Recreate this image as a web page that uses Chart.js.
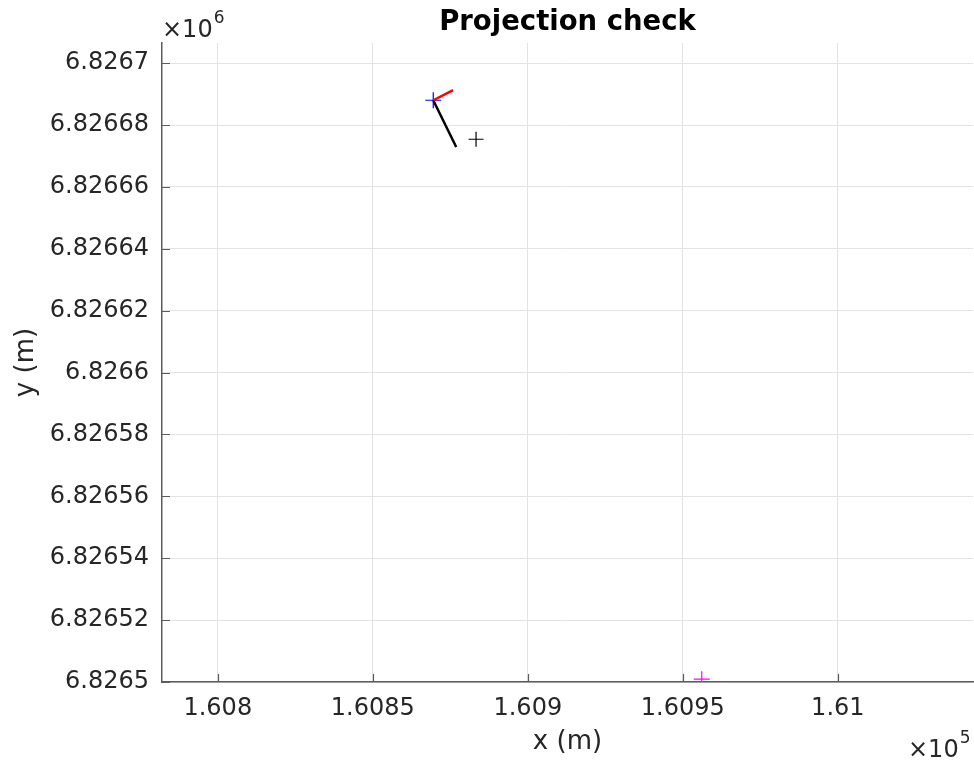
<!DOCTYPE html>
<html>
<head>
<meta charset="utf-8">
<title>Projection check</title>
<script src="https://cdn.jsdelivr.net/npm/chart.js@4.4.1/dist/chart.umd.min.js"></script>
<style>
    html, body { margin: 0; padding: 0; background: #fff; overflow: hidden; }
    #wrap { position: relative; width: 974px; height: 760px; }
    #projChart { display: block; }
</style>
</head>
<body>
<div id="wrap"><canvas id="projChart"></canvas></div>
<script>
// Positions in metres (easting / northing)
const anchorPoint = [{ x: 160869.5, y: 6826688.0 }];
const headingLine = [{ x: 160869.5, y: 6826688.0 }, { x: 160875.9, y: 6826691.3 }];
const projectedLine = [{ x: 160869.5, y: 6826688.0 }, { x: 160876.9, y: 6826672.9 }];
const projectedPoint = [{ x: 160883.3, y: 6826675.4 }];
const referencePoint = [{ x: 160956.1, y: 6826500.9 }];

// Axis ticks and limits
const xTicks = [160800, 160850, 160900, 160950, 161000];
const yTicks = [6826500, 6826520, 6826540, 6826560, 6826580, 6826600, 6826620, 6826640, 6826660, 6826680, 6826700];
const xLimits = [160782.0, 161043.6];
const yLimits = [6826500, 6826706.5];

const axisColor = '#262626';
const FONT = 'DejaVu Sans';

// inward tick marks, title and the x10^n multipliers
const decorPlugin = {
    id: 'decor',
    afterDraw(chart) {
        const ctx = chart.ctx;
        const area = chart.chartArea;
        const xs = chart.scales.x;
        const ys = chart.scales.y;
        ctx.save();
        ctx.strokeStyle = '#5c5c5c';
        ctx.lineWidth = 1.2;
        ctx.beginPath();
        xTicks.forEach(function (v) {
            const px = Math.round(xs.getPixelForValue(v)) + 0.5;
            ctx.moveTo(px, area.bottom);
            ctx.lineTo(px, area.bottom - 8);
        });
        yTicks.forEach(function (v) {
            const py = Math.round(ys.getPixelForValue(v)) + 0.5;
            ctx.moveTo(area.left, py);
            ctx.lineTo(area.left + 8, py);
        });
        ctx.stroke();

        ctx.fillStyle = '#000';
        ctx.font = 'bold 27.5px "' + FONT + '"';
        ctx.textAlign = 'center';
        ctx.textBaseline = 'alphabetic';
        ctx.fillText('Projection check', (area.left + area.right) / 2, 30);

        ctx.fillStyle = axisColor;
        ctx.textAlign = 'left';
        drawPower(ctx, area.left, 37, '6');
        drawPower(ctx, 908, 757, '5');
        ctx.restore();
    }
};

function drawPower(ctx, x, baseline, exp) {
    ctx.font = '24px "' + FONT + '"';
    const base = '\u00d710';
    ctx.fillText(base, x, baseline);
    const w = ctx.measureText(base).width;
    ctx.font = '17px "' + FONT + '"';
    ctx.fillText(exp, x + w + 1, baseline - 14);
}

const ctx = document.getElementById('projChart').getContext('2d');
const projChart = new Chart(ctx, {
    type: 'scatter',
    data: {
        datasets: [
            {
                type: 'line',
                data: headingLine,
                borderColor: '#ff0000',
                borderWidth: 2.5,
                pointRadius: 0,
                showLine: true
            },
            {
                type: 'line',
                data: projectedLine,
                borderColor: '#000000',
                borderWidth: 2.5,
                pointRadius: 0,
                showLine: true
            },
            {
                data: anchorPoint,
                pointStyle: 'cross',
                pointRadius: 8,
                borderColor: '#0000ff',
                borderWidth: 1.2
            },
            {
                data: projectedPoint,
                pointStyle: 'cross',
                pointRadius: 7.5,
                borderColor: '#000000',
                borderWidth: 1.2
            },
            {
                data: referencePoint,
                pointStyle: 'cross',
                pointRadius: 8,
                borderColor: '#ff00ff',
                borderWidth: 1.2
            }
        ]
    },
    options: {
        responsive: true,
        maintainAspectRatio: false,
        animation: false,
        layout: { autoPadding: false, padding: { top: 43, right: 1, left: 0, bottom: 0 } },
        plugins: {
            legend: { display: false },
            tooltip: { enabled: false }
        },
        scales: {
            x: {
                type: 'linear',
                min: xLimits[0],
                max: xLimits[1],
                afterBuildTicks: function (scale) {
                    scale.ticks = xTicks.map(function (v) { return { value: v }; });
                },
                afterFit: function (scale) {
                    scale.height = 78;
                    scale.paddingLeft = 0;
                    scale.paddingRight = 0;
                },
                grid: { color: '#e3e3e3', lineWidth: 1, drawTicks: false },
                border: { display: true, color: '#5c5c5c', width: 1.5 },
                ticks: {
                    padding: 12,
                    color: axisColor,
                    font: { family: FONT, size: 24 },
                    maxRotation: 0,
                    callback: function (v) { return String(parseFloat((v / 1e5).toFixed(6))); }
                },
                title: {
                    display: true,
                    text: 'x (m)',
                    color: axisColor,
                    font: { family: FONT, size: 26 },
                    padding: { top: 0, bottom: 2 }
                }
            },
            y: {
                type: 'linear',
                min: yLimits[0],
                max: yLimits[1],
                afterBuildTicks: function (scale) {
                    scale.ticks = yTicks.map(function (v) { return { value: v }; });
                },
                afterFit: function (scale) {
                    scale.width = 162;
                    scale.paddingTop = 0;
                    scale.paddingBottom = 0;
                },
                grid: { color: '#e3e3e3', lineWidth: 1, drawTicks: false },
                border: { display: true, color: '#5c5c5c', width: 1.5 },
                ticks: {
                    padding: 13,
                    color: axisColor,
                    font: { family: FONT, size: 24 },
                    callback: function (v) { return String(parseFloat((v / 1e6).toFixed(7))); }
                },
                title: {
                    display: true,
                    text: 'y (m)',
                    color: axisColor,
                    font: { family: FONT, size: 26 },
                    padding: { top: 11, bottom: 0 }
                }
            }
        }
    },
    plugins: [decorPlugin]
});
</script>
</body>
</html>
